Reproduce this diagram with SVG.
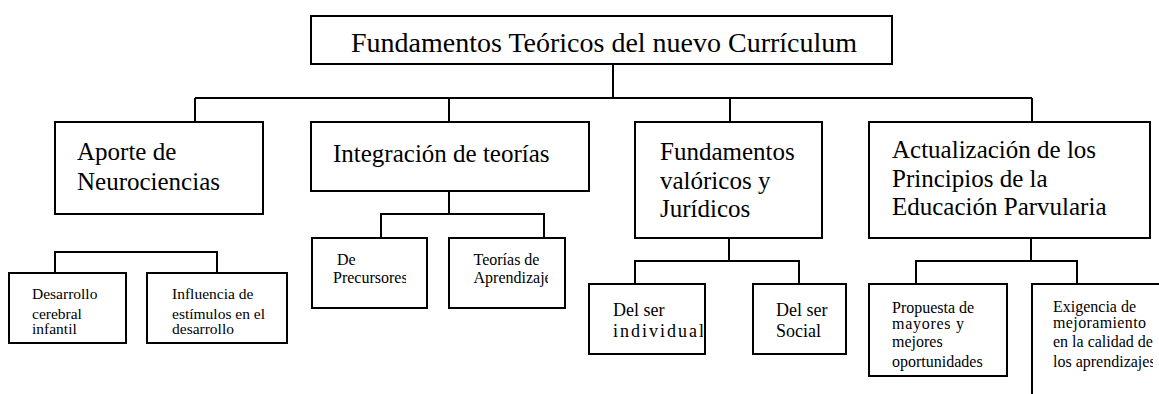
<svg xmlns="http://www.w3.org/2000/svg" width="1159" height="394" viewBox="0 0 1159 394">
<style>
.box{fill:#fff;stroke:#000;stroke-width:2}
.ln{fill:none;stroke:#000;stroke-width:2}
text{font-family:"Liberation Serif","Times New Roman",serif;fill:#000}
.t0{font-size:28px}
.t1{font-size:25px}
.t2{font-size:16px}
.t3{font-size:15.5px}
.t4{font-size:18px}
</style>
<defs>
<clipPath id="cPre"><rect x="300" y="240" width="106" height="60"/></clipPath>
<clipPath id="cTeo"><rect x="460" y="240" width="88" height="60"/></clipPath>
<clipPath id="cInd"><rect x="590" y="285" width="113" height="60"/></clipPath>
<clipPath id="cExi"><rect x="1040" y="350" width="113" height="30"/></clipPath>
</defs>
<rect width="1159" height="394" fill="#fff"/>
<g id="connectors">
<path class="ln" d="M613 64V98M195 98H1032M195 98V122M449 98V122M730 98V122M1032 98V122"/>
<path class="ln" d="M55 273V252H217V273"/>
<path class="ln" d="M449 191V214M381 238V214H544V238"/>
<path class="ln" d="M729 238V261M635 284V261H799V284"/>
<path class="ln" d="M1031 238V261M916 284V261H1077V284"/>
</g>
<g id="root">
<rect class="box" x="311" y="16" width="581" height="48"/>
<text class="t0" x="351" y="52">Fundamentos Teóricos del nuevo Currículum</text>
</g>
<g id="aporte">
<rect class="box" x="55" y="122" width="208" height="92"/>
<text class="t1" x="77" y="160">Aporte de</text>
<text class="t1" x="77" y="190">Neurociencias</text>
</g>
<g id="integracion">
<rect class="box" x="311" y="122" width="278" height="69"/>
<text class="t1" x="333" y="162">Integración de teorías</text>
</g>
<g id="fundamentos">
<rect class="box" x="635" y="122" width="187" height="116"/>
<text class="t1" x="660" y="160">Fundamentos</text>
<text class="t1" x="660" y="189">valóricos y</text>
<text class="t1" x="660" y="217">Jurídicos</text>
</g>
<g id="actualizacion">
<rect class="box" x="869" y="122" width="281" height="116"/>
<text class="t1" x="892" y="158">Actualización de los</text>
<text class="t1" x="892" y="187">Principios de la</text>
<text class="t1" x="892" y="215">Educación Parvularia</text>
</g>
<g id="desarrollo">
<rect class="box" x="9" y="273" width="117" height="70"/>
<text class="t3" x="32" y="299">Desarrollo</text>
<text class="t3" x="32" y="319">cerebral</text>
<text class="t3" x="32" y="334">infantil</text>
</g>
<g id="influencia">
<rect class="box" x="147" y="273" width="140" height="70"/>
<text class="t3" x="172" y="299">Influencia de</text>
<text class="t3" x="172" y="319">estímulos en el</text>
<text class="t3" x="172" y="334">desarrollo</text>
</g>
<g id="precursores">
<rect class="box" x="312" y="238" width="115" height="70"/>
<text class="t2" x="337" y="265">De</text>
<text class="t2" x="333" y="283" clip-path="url(#cPre)">Precursores</text>
</g>
<g id="teorias">
<rect class="box" x="449" y="238" width="116" height="70"/>
<text class="t2" x="473.5" y="265">Teorías de</text>
<text class="t2" x="473.5" y="283" clip-path="url(#cTeo)">Aprendizaje</text>
</g>
<g id="individual">
<rect class="box" x="589" y="284" width="116" height="70"/>
<text class="t4" x="613" y="316">Del ser</text>
<text class="t4" x="613" y="337" textLength="91" lengthAdjust="spacing" clip-path="url(#cInd)">individual</text>
</g>
<g id="social">
<rect class="box" x="753" y="284" width="93" height="70"/>
<text class="t4" x="776" y="316">Del ser</text>
<text class="t4" x="776" y="337">Social</text>
</g>
<g id="propuesta">
<rect class="box" x="869" y="284" width="138" height="92"/>
<text class="t2" x="892" y="313">Propuesta de</text>
<text class="t2" x="892" y="329" textLength="72" lengthAdjust="spacing">mayores y</text>
<text class="t2" x="892" y="347">mejores</text>
<text class="t2" x="892" y="367">oportunidades</text>
</g>
<g id="exigencia">
<path class="ln" d="M1032 396V284H1161"/>
<text class="t2" x="1053" y="312">Exigencia de</text>
<text class="t2" x="1053" y="328" textLength="93" lengthAdjust="spacing">mejoramiento</text>
<text class="t2" x="1053" y="347">en la calidad de</text>
<text class="t2" x="1053" y="367" clip-path="url(#cExi)">los aprendizajes</text>
</g>
</svg>
